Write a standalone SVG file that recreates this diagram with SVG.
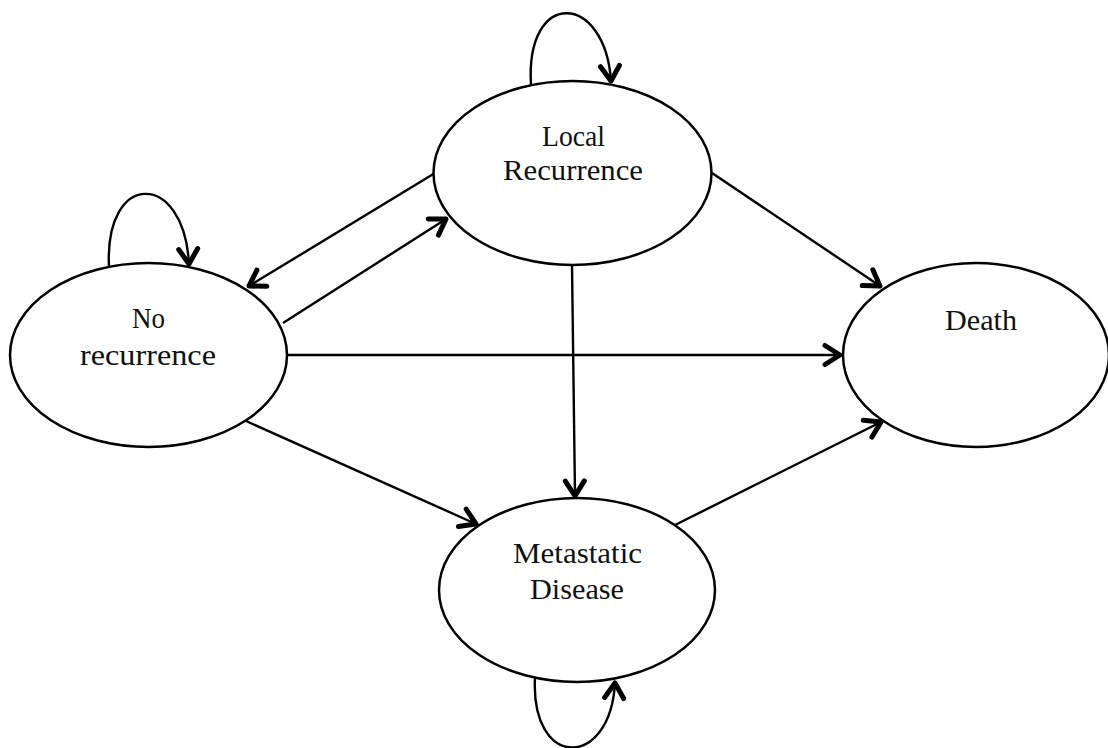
<svg xmlns="http://www.w3.org/2000/svg" width="1108" height="748" viewBox="0 0 1108 748">
<style>
.node{fill:#fff;stroke:#000;stroke-width:2.5}
.lbl{font-family:"Liberation Serif","DejaVu Serif",serif;font-size:29px;fill:#111;text-anchor:middle}
.edge{fill:none;stroke:#000;stroke-width:2.4}
</style>
<defs>
<marker id="arr" markerUnits="userSpaceOnUse" viewBox="-22 -14 26 28" markerWidth="26" markerHeight="28" refX="0" refY="0" orient="auto">
<path d="M-15,-9.5 L0,0 L-15,9.5" fill="none" stroke="#000" stroke-width="5" stroke-linecap="round" stroke-linejoin="round"/>
</marker>
</defs>
<rect width="1108" height="748" fill="#fff"/>
<g id="connectors">
<path class="edge" d="M435,173 L249,286" marker-end="url(#arr)"/>
<path class="edge" d="M283,323 L446,219" marker-end="url(#arr)"/>
<path class="edge" d="M712,173 L880,286" marker-end="url(#arr)"/>
<path class="edge" d="M572,265 L575,496" marker-end="url(#arr)"/>
<path class="edge" d="M287,355 L840,355" marker-end="url(#arr)"/>
<path class="edge" d="M246,421 L476,524" marker-end="url(#arr)"/>
<path class="edge" d="M675,525 L881,422" marker-end="url(#arr)"/>
<path class="edge" d="M531,85 C525,-12 605,-8 611,81" marker-end="url(#arr)"/>
<path class="edge" d="M109,267 C104,170 184,170 189,264" marker-end="url(#arr)"/>
<path class="edge" d="M535,677 C530,770 610,770 615,683" marker-end="url(#arr)"/>
</g>
<g id="local">
<ellipse class="node" cx="572.5" cy="173" rx="139" ry="92"/>
<text class="lbl" x="573.5" y="146" textLength="63" lengthAdjust="spacingAndGlyphs">Local</text>
<text class="lbl" x="573" y="180" textLength="140" lengthAdjust="spacingAndGlyphs">Recurrence</text>
</g>
<g id="norec">
<ellipse class="node" cx="148.5" cy="355" rx="138.5" ry="92"/>
<text class="lbl" x="148.5" y="328" textLength="33" lengthAdjust="spacingAndGlyphs">No</text>
<text class="lbl" x="148" y="365" textLength="136" lengthAdjust="spacingAndGlyphs">recurrence</text>
</g>
<g id="death">
<ellipse class="node" cx="976" cy="355" rx="133" ry="92"/>
<text class="lbl" x="981" y="330" textLength="72" lengthAdjust="spacingAndGlyphs">Death</text>
</g>
<g id="meta">
<ellipse class="node" cx="577" cy="590" rx="138" ry="92"/>
<text class="lbl" x="577.5" y="563" textLength="129" lengthAdjust="spacingAndGlyphs">Metastatic</text>
<text class="lbl" x="577" y="599" textLength="94" lengthAdjust="spacingAndGlyphs">Disease</text>
</g>
</svg>
